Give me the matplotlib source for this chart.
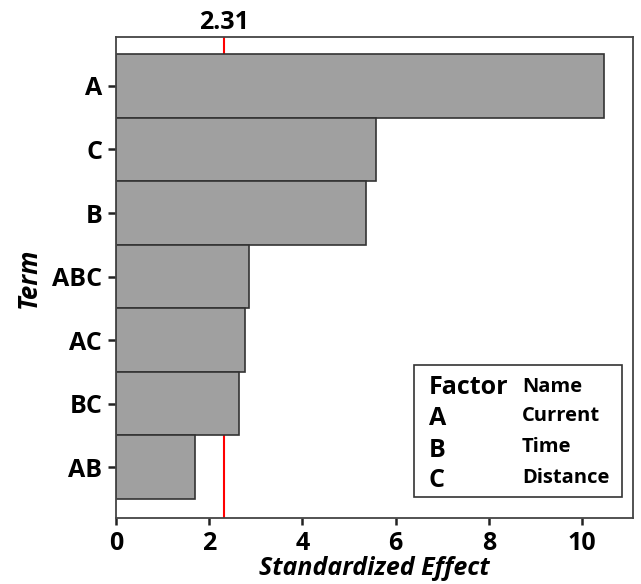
import matplotlib.pyplot as plt
from matplotlib.patches import Rectangle

# Standardized effects (Pareto chart of terms)
terms = ['A', 'C', 'B', 'ABC', 'AC', 'BC', 'AB']
effects = [10.47, 5.57, 5.37, 2.85, 2.76, 2.64, 1.69]
ref_value = 2.31

factors = ['A', 'B', 'C']
factor_names = ['Current', 'Time', 'Distance']

plt.rcParams['font.family'] = ['Open Sans', 'DejaVu Sans']
W = 'bold'

fig = plt.figure(figsize=(6.41, 5.84), dpi=100)
ax = fig.add_axes([0.181, 0.113, 0.8065, 0.8236])

ypos = list(range(len(terms)))
ax.barh(ypos, effects, height=1.0, color='#a0a0a0', edgecolor='#333333', linewidth=1.2, zorder=2)
ax.axvline(ref_value, color='#ff0000', linewidth=1.5, zorder=1)

ax.set_xlim(0, 11.09)
ax.set_ylim(6.8, -0.77)
ax.set_yticks(ypos)
ax.set_yticklabels(terms)
ax.set_xticks([0, 2, 4, 6, 8, 10])

ax.tick_params(axis='both', labelsize=18, width=1.8, color='#222222', direction='out')
ax.tick_params(axis='x', length=5, pad=4)
ax.tick_params(axis='y', length=6, pad=4)
for lab in ax.get_xticklabels() + ax.get_yticklabels():
    lab.set_fontweight(W)

for sp in ax.spines.values():
    sp.set_color('#444444')
    sp.set_linewidth(1.3)

ax.set_xlabel('Standardized Effect', fontsize=18, fontweight=W, style='italic', labelpad=0)
ax.set_ylabel('Term', fontsize=18.5, fontweight=W, style='italic', labelpad=7)

# value of the reference line above the plot
ax.text(ref_value, 1.004, f'{ref_value:.2f}', transform=ax.get_xaxis_transform(),
        ha='center', va='bottom', fontsize=18, fontweight=W)

# factor key
ax.add_patch(Rectangle((0.576, 0.044), 0.403, 0.274, transform=ax.transAxes,
                       facecolor='white', edgecolor='#333333', linewidth=1.2, zorder=5))
ax.text(0.605, 0.272, 'Factor', transform=ax.transAxes, fontsize=18, fontweight=W,
        va='center', ha='left', zorder=6)
ax.text(0.785, 0.272, 'Name', transform=ax.transAxes, fontsize=14.5, fontweight=W,
        va='center', ha='left', zorder=6)
rows_y = [0.206, 0.141, 0.077]
for f, n, y in zip(factors, factor_names, rows_y):
    ax.text(0.605, y, f, transform=ax.transAxes, fontsize=18, fontweight=W,
            va='center', ha='left', zorder=6)
    ax.text(0.785, y + 0.007, n, transform=ax.transAxes, fontsize=14.5, fontweight=W,
            va='center', ha='left', zorder=6)

fig.savefig('out.png', dpi=100)
